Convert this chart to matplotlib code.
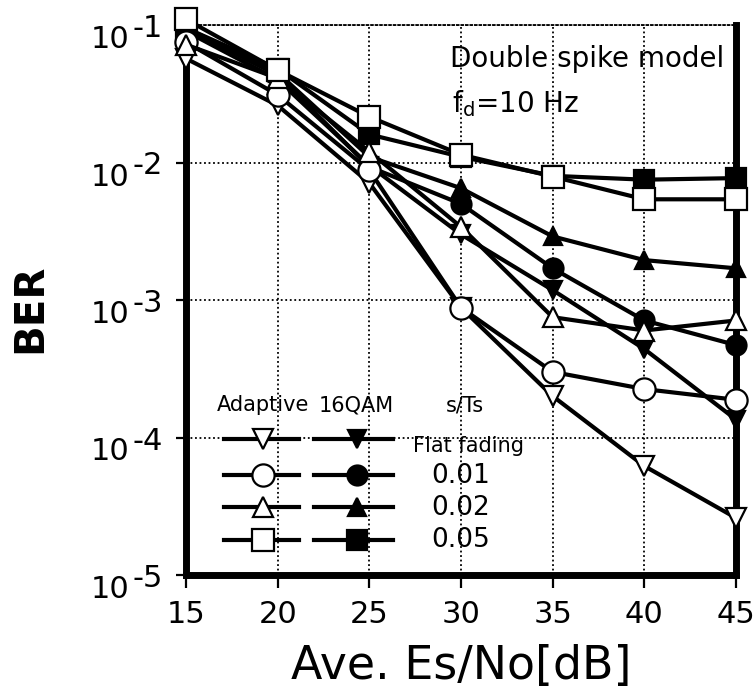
import matplotlib
matplotlib.use("Agg")
import matplotlib.pyplot as plt
from matplotlib.lines import Line2D

# Average Es/No [dB]
snr_db = [15, 20, 25, 30, 35, 40, 45]

# Adaptive modulation BER
adaptive_flat = [0.057, 0.026, 0.0071, 0.00088, 0.00020, 6.2e-5, 2.6e-5]
adaptive_001 = [0.075, 0.031, 0.0088, 0.00088, 0.00030, 0.000225, 0.000188]
adaptive_002 = [0.072, 0.041, 0.012, 0.0034, 0.00075, 0.00060, 0.00071]
adaptive_005 = [0.110, 0.047, 0.0215, 0.0114, 0.0079, 0.0054, 0.0054]

# Fixed 16QAM BER
qam_flat = [0.090, 0.040, 0.0095, 0.0030, 0.00118, 0.00044, 0.000135]
qam_001 = [0.095, 0.043, 0.0093, 0.0050, 0.0017, 0.00071, 0.00047]
qam_002 = [0.095, 0.045, 0.011, 0.0065, 0.0029, 0.00195, 0.0017]
qam_005 = [0.095, 0.048, 0.016, 0.011, 0.0080, 0.0075, 0.0077]

spread_labels = ["Flat fading", "0.01", "0.02", "0.05"]
markers = ["v", "o", "^", "s"]
marker_sizes = [15, 16, 15, 16]

x_ticks = [15, 20, 25, 30, 35, 40, 45]
y_ticks = [1e-5, 1e-4, 1e-3, 1e-2, 1e-1]
y_exponents = ["-5", "-4", "-3", "-2", "-1"]

plt.rcParams["font.family"] = ["DejaVu Sans"]

fig = plt.figure(figsize=(7.55, 7.00), dpi=100)
ax = fig.add_axes([186 / 755, 1 - 575 / 700, 550 / 755, 550 / 700])

ax.set_yscale("log")
ax.set_xlim(15, 45)
ax.set_ylim(1e-5, 1e-1)

lw = 3.0
mew = 1.6

qam_series = [qam_flat, qam_001, qam_002, qam_005]
adaptive_series = [adaptive_flat, adaptive_001, adaptive_002, adaptive_005]

for vals, m, ms in zip(qam_series, markers, marker_sizes):
    ax.plot(snr_db, vals, color="black", lw=lw, marker=m, ms=ms * 0.9,
            mfc="black", mec="black", mew=mew, clip_on=False, zorder=3)
for vals, m, ms in zip(adaptive_series, markers, marker_sizes):
    ax.plot(snr_db, vals, color="black", lw=lw, marker=m, ms=ms,
            mfc="white", mec="black", mew=mew, clip_on=False, zorder=4)

# grid and frame
ax.grid(True, which="major", color="black", linestyle=(0, (1, 1.5)), linewidth=1.3)
ax.grid(False, which="minor")
ax.minorticks_off()
for side in ["left", "bottom", "right"]:
    ax.spines[side].set_linewidth(5)
ax.spines["top"].set_linewidth(1.3)
ax.spines["top"].set_linestyle((0, (1, 1.5)))

ax.set_xticks(x_ticks)
ax.set_xticklabels([str(v) for v in x_ticks])
ax.set_yticks(y_ticks)
ax.set_yticklabels([""] * len(y_ticks))
ax.tick_params(axis="x", direction="out", length=9, width=1.6, labelsize=22, pad=9)
ax.tick_params(axis="y", direction="out", length=7, width=1.6)

# decade labels: "10" with a raised, same-size exponent
for k, ex in enumerate(y_exponents):
    yf = k / 4
    ax.text(-0.1036, yf - 23 / 550, "10", transform=ax.transAxes, fontsize=22,
            ha="right", va="baseline", clip_on=False)
    ax.text(-0.0964, yf - 12 / 550, ex, transform=ax.transAxes, fontsize=22,
            ha="left", va="baseline", clip_on=False)

ax.set_xlabel("Ave. Es/No[dB]", fontsize=33, va="top")
ax.xaxis.set_label_coords(0.5, -0.125)
ax.set_ylabel("BER", fontsize=29, fontweight="bold", va="center")
ax.yaxis.set_label_coords(-0.284, 0.484)

# annotation
ax.text(0.48, 0.924, "Double spike model", transform=ax.transAxes, fontsize=20,
        ha="left", va="baseline", zorder=6)
ax.text(0.483, 0.842, r"f$_{\rm d}$=10 Hz", transform=ax.transAxes, fontsize=20,
        ha="left", va="baseline", zorder=6)

# hand-built legend
hdr_y = 0.309
ax.text(0.14, hdr_y, "Adaptive", transform=ax.transAxes, fontsize=15, ha="center", va="center")
ax.text(0.31, hdr_y, "16QAM", transform=ax.transAxes, fontsize=15, ha="center", va="center")
ax.text(0.507, hdr_y, "s/Ts", transform=ax.transAxes, fontsize=15, ha="center", va="center")

row_y = [0.248, 0.182, 0.1236, 0.0645]
label_y = [0.234, 0.180, 0.121, 0.064]
label_x = [0.513, 0.50, 0.50, 0.50]
for ry, ly, lx, lab, m, ms in zip(row_y, label_y, label_x, spread_labels, markers, marker_sizes):
    ax.add_line(Line2D([0.0691, 0.2055], [ry, ry], transform=ax.transAxes, color="black", lw=lw, zorder=5))
    ax.add_line(Line2D([0.14], [ry], transform=ax.transAxes, marker=m, ms=ms, mfc="white",
                       mec="black", mew=mew, lw=0, zorder=6))
    ax.add_line(Line2D([0.2327, 0.3764], [ry, ry], transform=ax.transAxes, color="black", lw=lw, zorder=5))
    ax.add_line(Line2D([0.311], [ry], transform=ax.transAxes, marker=m, ms=ms * 0.9, mfc="black",
                       mec="black", mew=mew, lw=0, zorder=6))
    fs = 15 if lab == "Flat fading" else 19
    ax.text(lx, ly, lab, transform=ax.transAxes, fontsize=fs, ha="center", va="center", zorder=6)

fig.savefig("out.png", dpi=100)
